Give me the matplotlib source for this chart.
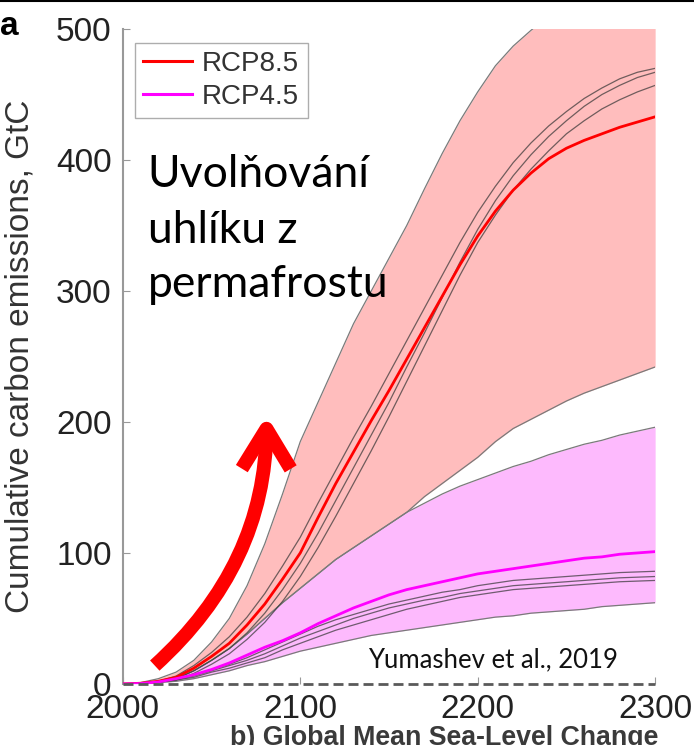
import matplotlib
matplotlib.use('Agg')
import matplotlib.pyplot as plt
from matplotlib.lines import Line2D

# values (cumulative GtC), every 10 years 2000..2300
years = list(range(2000, 2301, 10))

rcp85_mean = [0, 0.5, 2, 5, 12, 21, 31, 45, 61, 80, 100, 127, 153, 177, 201, 224,
              248, 272, 296, 320, 342, 361, 377, 390, 401, 409, 415, 420, 425, 429, 433]
rcp85_upper = [0, 1, 4, 9, 18, 32, 50, 75, 107, 145, 185, 215, 245, 275, 300, 325,
               350, 378, 405, 430, 452, 472, 487, 499, 510, 518, 525, 531, 537, 542, 547]
rcp85_lower = [0, 0.5, 2, 4, 10, 18, 27, 38, 50, 62, 73, 84, 95, 104, 113, 122,
               131, 143, 153, 163, 173, 185, 195, 202, 209, 216, 222, 227, 232, 237, 242]
rcp85_members = [
    [0, 0.5, 2, 6, 14, 24, 36, 51, 69, 90, 112, 138, 163, 188, 212, 237,
     262, 287, 312, 337, 360, 380, 398, 413, 426, 437, 447, 455, 462, 467, 470],
    [0, 0.5, 2, 4, 10, 18, 27, 39, 54, 72, 92, 115, 140, 165, 190, 215,
     242, 268, 295, 322, 347, 369, 388, 404, 418, 430, 441, 450, 457, 463, 467],
    [0, 0.5, 2, 3, 8, 15, 23, 34, 47, 63, 82, 104, 128, 153, 178, 204,
     231, 258, 285, 312, 337, 358, 377, 393, 407, 420, 430, 439, 446, 452, 457],
]

rcp45_mean = [0, 0.3, 1.5, 4, 7, 11, 16, 22, 28, 33, 39, 46, 52, 58, 63, 68,
              72, 75, 78, 81, 84, 86, 88, 90, 92, 94, 96, 97, 99, 100, 101]
rcp45_upper = [0, 0.5, 2, 4, 10, 18, 27, 38, 50, 62, 73, 84, 95, 104, 113, 122,
               131, 138, 145, 151, 156, 161, 166, 170, 175, 179, 183, 186, 190, 193, 196]
rcp45_lower = [0, 0, 1, 2, 4, 7, 10, 14, 17, 21, 25, 28, 31, 34, 37, 39,
               41, 43, 45, 47, 49, 51, 52, 54, 55, 56, 57, 59, 60, 61, 62]
rcp45_members = [
    [0, 0.3, 1.5, 3.5, 7, 11, 15, 20, 26, 32, 38, 44, 49, 53, 57, 61,
     64, 67, 70, 72, 75, 77, 79, 80, 81, 82, 83, 84, 85, 85.5, 86],
    [0, 0.3, 1.5, 3, 6, 10, 14, 18, 23, 29, 35, 40, 45, 50, 54, 58,
     61, 64, 66, 69, 71, 73, 75, 76, 77, 78, 79, 80, 81, 81.5, 82],
    [0, 0.3, 1.2, 3, 5, 9, 12, 16, 20, 26, 31, 36, 41, 45, 49, 53,
     57, 60, 63, 66, 68, 70, 72, 73, 74, 75, 76, 77, 78, 78.5, 79],
]

xticks = [2000, 2100, 2200, 2300]
yticks = [0, 100, 200, 300, 400, 500]
legend_labels = ['RCP8.5', 'RCP4.5']
note_lines = ['Uvolňování', 'uhlíku z', 'permafrostu']

RED = '#ff0000'
MAG = '#ff00ff'
PINK = '#ffbdbd'
LILAC = '#fdbafd'
EDGE = '#7a7a7a'

plt.rcParams['font.family'] = ['Liberation Sans', 'DejaVu Sans']

fig = plt.figure(figsize=(6.94, 7.45), dpi=100)
ax = fig.add_axes([0.177, 0.082, 0.767, 0.879])

ax.fill_between(years, rcp85_lower, rcp85_upper, color=PINK, lw=0, zorder=1)
ax.fill_between(years, rcp45_lower, rcp45_upper, color=LILAC, lw=0, zorder=1)
for band in (rcp85_upper, rcp85_lower, rcp45_upper, rcp45_lower):
    ax.plot(years, band, color=EDGE, lw=0.9, zorder=2)
for m in rcp85_members + rcp45_members:
    ax.plot(years, m, color='#333333', lw=0.9, alpha=0.7, zorder=3)
ax.plot(years, rcp85_mean, color=RED, lw=2.0, zorder=4)
ax.plot(years, rcp45_mean, color=MAG, lw=2.0, zorder=4)

# dashed zero line instead of a bottom spine
ax.axhline(0, color='#5a5a5a', lw=2.0, ls=(0, (3.6, 1.8)), zorder=5, clip_on=False)

ax.set_xlim(2000, 2300)
ax.set_ylim(0, 500)
ax.set_xticks(xticks)
ax.set_yticks(yticks)
for s in ('top', 'right', 'bottom'):
    ax.spines[s].set_visible(False)
ax.spines['left'].set_color('#999999')
ax.spines['left'].set_linewidth(1.5)
ax.tick_params(axis='both', direction='in', length=5, color='#999999', labelsize=24, labelcolor='#222222')
ax.tick_params(axis='y', pad=8)
ax.tick_params(axis='x', pad=7)
ax.set_ylabel('Cumulative carbon emissions, GtC', fontsize=24, color='#333333', labelpad=15)

handles = [Line2D([], [], color=RED, lw=2.2), Line2D([], [], color=MAG, lw=2.2)]
leg = ax.legend(handles, legend_labels, loc='upper left', bbox_to_anchor=(0.0226, 0.979),
                borderaxespad=0, fontsize=20, handlelength=1.76, handletextpad=0.36,
                frameon=True, fancybox=False, labelspacing=0.25, borderpad=0.3)
leg.get_frame().set_edgecolor('#999999')
leg.get_frame().set_linewidth(1.0)
for t in leg.get_texts():
    t.set_color('#333333')

for line, yb in zip(note_lines, [0.7588, 0.6733, 0.5908]):
    ax.text(0.047, yb, line, transform=ax.transAxes, fontsize=32, family='Lato',
            va='baseline', ha='left', color='black')
ax.text(0.4605, 0.026, 'Yumashev et al., 2019', transform=ax.transAxes,
        fontsize=18.5, family='Lato', ha='left', va='baseline', color='#111111')

ax.annotate('', xy=(2081, 205), xytext=(2018, 14),
            arrowprops=dict(arrowstyle='->, head_length=0.72, head_width=0.44', mutation_scale=40,
                            connectionstyle='arc3,rad=0.22', color=RED, lw=10,
                            shrinkA=0, shrinkB=0, capstyle='butt', joinstyle='round'), zorder=6)

fig.text(0.0, 0.985, 'a', fontsize=24, fontweight='bold', va='top', ha='left')
fig.add_artist(Line2D([0, 1], [0.998, 0.998], color='black', lw=1.5, transform=fig.transFigure))
fig.text(0.331, 0.0, 'b) Global Mean Sea-Level Change', fontsize=19.3, fontweight='bold',
         color='#3a3a3a', ha='left', va='baseline')

fig.savefig('out.png', dpi=100)
